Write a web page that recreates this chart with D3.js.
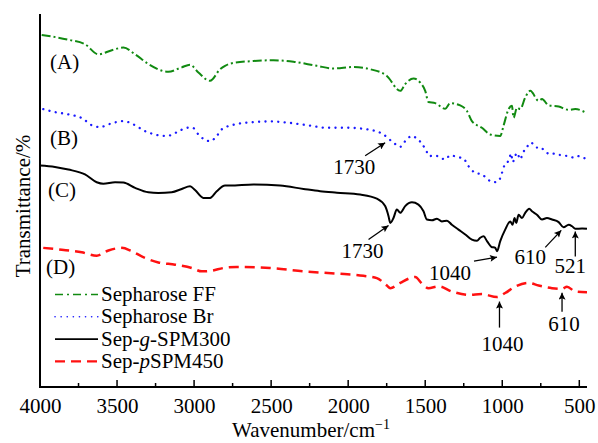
<!DOCTYPE html>
<html>
<head>
<meta charset="utf-8">
<script src="https://cdn.jsdelivr.net/npm/d3@7"></script>
<style>
html,body{margin:0;padding:0;background:#fff;}
svg text{font-family:"Liberation Serif","Times New Roman",serif;fill:#000;}
</style>
</head>
<body>
<svg id="chart" width="598" height="443"></svg>
<script>
// ---- data: [wavenumber (cm^-1), transmittance (arbitrary %)] ----
const seriesA = [[3989,94.4],[3816,93.1],[3708,91.9],[3621,89.2],[3534,90.3],[3459,91.0],[3383,89.2],[3297,86.6],[3167,84.5],[3080,85.7],[3026,86.4],[2972,84.3],[2896,82.1],[2831,85.2],[2799,86.1],[2766,86.7],[2615,87.4],[2485,87.6],[2355,87.2],[2203,86.1],[2095,85.4],[1966,85.8],[1857,85.2],[1749,83.4],[1662,79.4],[1630,81.2],[1576,82.7],[1532,81.6],[1500,79.4],[1479,76.4],[1435,76.1],[1370,74.6],[1338,76.1],[1273,75.5],[1229,74.0],[1197,71.3],[1132,69.5],[1078,67.7],[1013,67.3],[992,70.0],[959,74.5],[937,75.4],[927,72.2],[904,74.9],[883,74.5],[851,77.6],[818,79.4],[764,76.7],[742,77.2],[699,75.5],[634,75.2],[569,74.3],[526,74.5],[450,73.4]];
const seriesB = [[3979,74.5],[3903,73.7],[3816,73.1],[3729,72.1],[3654,70.0],[3610,69.7],[3534,70.7],[3459,71.3],[3394,70.4],[3318,68.6],[3232,67.5],[3177,67.3],[3102,68.5],[3047,69.5],[3005,69.4],[2972,67.7],[2896,65.9],[2853,67.3],[2820,69.1],[2734,70.4],[2615,71.0],[2507,71.2],[2398,70.9],[2268,70.2],[2138,69.5],[2008,69.5],[1879,69.1],[1771,67.7],[1706,65.5],[1662,64.4],[1630,65.9],[1586,67.3],[1554,66.6],[1521,65.2],[1495,63.5],[1474,61.9],[1435,62.1],[1403,61.5],[1370,61.0],[1338,62.1],[1294,61.7],[1251,61.2],[1219,59.2],[1175,57.4],[1132,57.0],[1089,55.5],[1057,54.9],[1024,55.2],[1002,57.4],[981,59.9],[959,60.6],[942,62.6],[933,60.3],[904,62.8],[883,61.0],[868,62.6],[840,64.3],[818,65.5],[803,65.3],[775,64.2],[753,64.3],[725,63.3],[688,62.4],[656,62.6],[617,62.1],[569,61.9],[537,61.5],[508,61.9],[482,61.4],[450,61.3]];
const seriesC = [[4000,59.4],[3903,59.0],[3816,58.3],[3708,57.0],[3632,54.9],[3589,54.5],[3513,54.9],[3459,54.8],[3383,53.4],[3297,52.2],[3232,52.0],[3145,52.2],[3080,53.1],[3026,53.8],[2994,52.8],[2940,50.7],[2896,50.7],[2853,52.5],[2799,54.0],[2766,54.0],[2615,54.3],[2442,54.0],[2290,53.1],[2182,52.5],[2073,52.1],[1922,51.6],[1814,50.5],[1760,48.5],[1738,45.8],[1727,44.0],[1706,45.3],[1684,47.6],[1662,46.7],[1630,48.5],[1586,49.5],[1544,48.9],[1511,47.1],[1489,44.9],[1456,44.7],[1424,45.1],[1392,44.4],[1359,44.6],[1327,43.5],[1284,42.2],[1240,40.9],[1197,39.5],[1164,39.2],[1143,40.0],[1121,40.4],[1099,39.1],[1071,37.6],[1045,37.3],[1034,36.4],[1013,39.1],[981,42.2],[948,44.4],[933,43.5],[920,45.3],[909,44.0],[894,46.2],[872,45.3],[851,46.7],[825,47.8],[807,47.1],[775,46.2],[742,44.9],[710,45.3],[677,44.9],[634,44.2],[602,42.8],[569,43.5],[547,43.1],[526,42.4],[482,42.5],[450,42.4]];
const seriesD = [[3979,37.3],[3859,36.8],[3729,36.1],[3632,35.2],[3556,36.6],[3469,37.3],[3405,36.4],[3318,34.6],[3232,33.4],[3123,32.8],[3015,31.9],[2950,31.0],[2885,31.2],[2810,31.9],[2723,32.2],[2507,31.9],[2290,31.0],[2073,30.4],[1901,29.8],[1814,29.2],[1749,27.2],[1727,26.5],[1662,27.9],[1597,29.2],[1565,29.5],[1521,27.7],[1479,26.5],[1414,27.0],[1327,25.6],[1219,24.7],[1132,24.9],[1034,24.1],[981,25.2],[916,26.9],[829,27.9],[764,27.2],[677,26.5],[612,26.3],[580,26.9],[526,25.6],[450,25.4]];

const seriesNames = ["Sepharose FF", "Sepharose Br", "Sep-g-SPM300", "Sep-pSPM450"];
const curveLabels = ["(A)", "(B)", "(C)", "(D)"];
const xTicksMajor = [4000, 3500, 3000, 2500, 2000, 1500, 1000, 500];
const xTicksMinor = [3750, 3250, 2750, 2250, 1750, 1250, 750];
const xDomain = [4000, 450];
const yDomain = [0, 100];

// annotations: label, tip [wavenumber, transmittance]
const annotationLabels = ["1730", "1730", "1040", "610", "521", "1040", "610"];
const annotationTips = [[1760,65.5],[1738,43.3],[1034,34.8],[617,42.0],[526,41.7],[1018,22.9],[612,25.3]];

// ---- layout ----
const svg = d3.select("#chart");
const M = {left: 40, right: 587, top: 14, bottom: 387};
const FONT = 21;
const x = d3.scaleLinear().domain(xDomain).range([M.left, M.right]);
const y = d3.scaleLinear().domain(yDomain).range([M.bottom, M.top]);

const styles = [
  {color: "#118a11", width: 2, dash: "9,3,2,3", cap: "butt"},
  {color: "#1a1aff", width: 2.3, dash: "0.1,6.3", cap: "round"},
  {color: "#000000", width: 2, dash: null, cap: "butt"},
  {color: "#ff1111", width: 2.5, dash: "10,6", cap: "butt"}
];
const allSeries = [seriesA, seriesB, seriesC, seriesD];

const line = d3.line().x(d => x(d[0])).y(d => y(d[1])).curve(d3.curveMonotoneX);

allSeries.forEach((s, i) => {
  const st = styles[i];
  svg.append("path")
    .datum(s.slice().sort((a, b) => b[0] - a[0]))
    .attr("d", line)
    .attr("fill", "none")
    .attr("stroke", st.color)
    .attr("stroke-width", st.width)
    .attr("stroke-linecap", st.cap)
    .attr("stroke-linejoin", "round")
    .attr("stroke-dasharray", st.dash);
});

// axes
const xAxis = d3.axisBottom(x).tickValues(xTicksMajor).tickSize(0).tickPadding(0).tickFormat(d3.format("d"));
const gx = svg.append("g").attr("transform", `translate(0,${M.bottom})`).call(xAxis);
gx.select(".domain").remove();
gx.selectAll(".tick text")
  .attr("y", 26)
  .attr("dy", 0)
  .style("font-size", FONT + "px")
  .style("font-family", '"Liberation Serif","Times New Roman",serif');

svg.selectAll(".tmaj").data(xTicksMajor).enter().append("line")
  .attr("x1", d => x(d)).attr("x2", d => x(d))
  .attr("y1", M.bottom).attr("y2", M.bottom - 7)
  .attr("stroke", "#000").attr("stroke-width", 1.5);
svg.selectAll(".tmin").data(xTicksMinor).enter().append("line")
  .attr("x1", d => x(d)).attr("x2", d => x(d))
  .attr("y1", M.bottom).attr("y2", M.bottom - 4)
  .attr("stroke", "#000").attr("stroke-width", 1.5);

svg.append("line").attr("x1", M.left).attr("x2", M.right)
  .attr("y1", M.bottom).attr("y2", M.bottom)
  .attr("stroke", "#000").attr("stroke-width", 2);
svg.append("line").attr("x1", M.left).attr("x2", M.left)
  .attr("y1", M.top).attr("y2", M.bottom + 1)
  .attr("stroke", "#000").attr("stroke-width", 2);

// axis titles
const xt = svg.append("text").attr("x", 311).attr("y", 437)
  .attr("text-anchor", "middle").style("font-size", FONT + "px");
xt.append("tspan").text("Wavenumber/cm");
xt.append("tspan").attr("dy", -8).style("font-size", "14px").text("\u22121");

svg.append("text")
  .attr("transform", "translate(30,206) rotate(-90)")
  .attr("text-anchor", "middle")
  .style("font-size", FONT + "px")
  .text("Transmittance/%");

// curve labels
const labelPos = [[50, 69], [50, 145], [48, 197], [46, 274]];
curveLabels.forEach((t, i) => {
  svg.append("text").attr("x", labelPos[i][0]).attr("y", labelPos[i][1])
    .style("font-size", FONT + "px").text(t);
});

// legend
const legY0 = 301, legDY = 22.3;
seriesNames.forEach((name, i) => {
  const st = styles[i];
  const by = legY0 + i * legDY;
  svg.append("line").attr("x1", 55).attr("x2", 98)
    .attr("y1", by - 6.5).attr("y2", by - 6.5)
    .attr("stroke", st.color).attr("stroke-width", i === 3 ? 2.2 : 1.6)
    .attr("stroke-linecap", st.cap)
    .attr("stroke-dasharray", i === 0 ? "8,4,2,4" : i === 1 ? "0.1,6" : i === 3 ? "10,6" : null);
  const t = svg.append("text").attr("x", 101).attr("y", by).style("font-size", FONT + "px");
  if (name === "Sep-g-SPM300") {
    t.append("tspan").text("Sep-");
    t.append("tspan").style("font-style", "italic").text("g");
    t.append("tspan").text("-SPM300");
  } else if (name === "Sep-pSPM450") {
    t.append("tspan").text("Sep-");
    t.append("tspan").style("font-style", "italic").text("p");
    t.append("tspan").text("SPM450");
  } else {
    t.text(name);
  }
});

// annotations (tail and text offsets from the arrow tip, in px)
const annLayout = [
  {tail: [-20, 13], text: [-31, 31]},
  {tail: [-20, 14], text: [-26, 33]},
  {tail: [-23, 4], text: [-47, 23]},
  {tail: [-16, 17], text: [-31, 34]},
  {tail: [0, 25], text: [-5, 42]},
  {tail: [0, 26], text: [3, 49]},
  {tail: [0, 19], text: [2, 38]}
];
const defs = svg.append("defs");
defs.append("marker").attr("id", "arr")
  .attr("viewBox", "0 0 10 10").attr("refX", 10).attr("refY", 5)
  .attr("markerUnits", "userSpaceOnUse")
  .attr("markerWidth", 10).attr("markerHeight", 7)
  .attr("orient", "auto")
  .append("path").attr("d", "M0,0 L10,5 L0,10 L2,5 Z").attr("fill", "#000");

annotationTips.forEach((tip, i) => {
  const tx = x(tip[0]), ty = y(tip[1]);
  const L = annLayout[i];
  svg.append("line")
    .attr("x1", tx + L.tail[0]).attr("y1", ty + L.tail[1])
    .attr("x2", tx).attr("y2", ty)
    .attr("stroke", "#000").attr("stroke-width", 1.3)
    .attr("marker-end", "url(#arr)");
  svg.append("text").attr("x", tx + L.text[0]).attr("y", ty + L.text[1])
    .attr("text-anchor", "middle").style("font-size", FONT + "px")
    .text(annotationLabels[i]);
});
</script>
</body>
</html>
